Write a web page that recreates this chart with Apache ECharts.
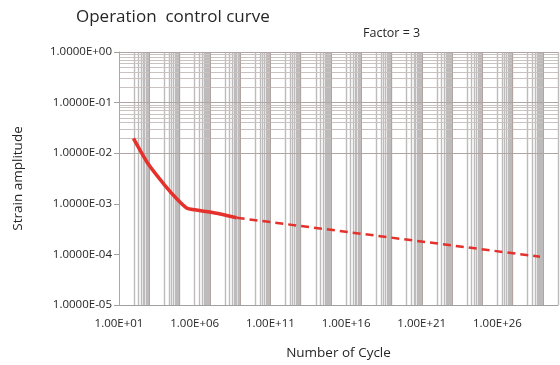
<!DOCTYPE html>
<html>
<head>
<meta charset="utf-8">
<script src="https://cdn.jsdelivr.net/npm/echarts@6/dist/echarts.min.js"></script>
<style>
  html, body { margin: 0; padding: 0; background: #fff; }
  #chart { width: 560px; height: 365px; }
</style>
</head>
<body>
<div id="chart"></div>
<script>
  const solidCycles = [90, 860, 1.1e4, 6.5e4, 2.9e5, 1.05e6, 2.2e7, 5.9e8];
  const solidStrain = [0.0197, 6.1e-3, 2.29e-3, 1.26e-3, 8.3e-4, 7.6e-4, 6.6e-4, 5.3e-4];
  const dashedCycles = [5.9e8, 6.5e28];
  const dashedStrain = [5.3e-4, 9.0e-5];

  const xExpMin = 1, xExpMax = 30;
  const yExpMin = -5, yExpMax = 0;

  // excel style grid
  // y: base 10, minor at 2..9 in each decade
  let yMajor = [], yMinor = [];
  for (let e = yExpMin; e <= yExpMax; e++) {
    yMajor.push({ yAxis: Math.pow(10, e) });
    if (e < yExpMax) {
      for (let k = 2; k <= 9; k++) yMinor.push({ yAxis: k * Math.pow(10, e) });
    }
  }
  // x: base 100, minor at 10,20..90 x major
  let xMajor = [], xMinor = [];
  for (let e = xExpMin; e <= xExpMax; e += 2) {
    xMajor.push({ xAxis: Math.pow(10, e) });
    for (let k = 1; k <= 9; k++) {
      let v = k * Math.pow(10, e + 1);
      if (v <= Math.pow(10, xExpMax) * 1.0001) xMinor.push({ xAxis: v });
    }
  }

  function pad2(n) { return (n < 10 ? '0' : '') + n; }

  const font = 'Open Sans';
  const red = '#e5312b';
  const txt = '#262626';

  let mychart = echarts.init(document.getElementById('chart'));
  mychart.setOption({
    animation: false,
    textStyle: { fontFamily: font },
    title: [
      {
        text: 'Operation  control curve',
        left: 71, top: 4,
        textStyle: { fontFamily: font, fontSize: 17, fontWeight: 'normal', color: txt }
      },
      {
        text: 'Factor = 3',
        left: 358, top: 22,
        textStyle: { fontFamily: font, fontSize: 12.5, fontWeight: 'normal', color: txt }
      }
    ],
    grid: { left: 119, right: 2, top: 52, bottom: 58 },
    xAxis: [
      {
        type: 'log',
        min: Math.pow(10, xExpMin),
        max: Math.pow(10, xExpMax),
        axisLine: { show: false },
        axisTick: { show: false },
        axisLabel: { show: false },
        splitLine: { show: false }
      },
      {
        // only carries the labels, log10 of cycles is linear
        type: 'value',
        position: 'bottom',
        min: xExpMin, max: xExpMax, interval: 5,
        name: 'Number of Cycle',
        nameLocation: 'middle',
        nameGap: 41,
        nameTextStyle: { fontFamily: font, fontSize: 13.5, color: txt },
        axisLine: { show: true, lineStyle: { color: '#a0a0a0' } },
        axisTick: { show: false },
        splitLine: { show: false },
        axisLabel: {
          margin: 13, fontSize: 11.5, color: txt, fontFamily: font,
          showMaxLabel: false,
          formatter: v => ((v - xExpMin) % 5 === 0 ? '1.00E+' + pad2(v) : '')
        }
      }
    ],
    yAxis: {
      type: 'log',
      min: Math.pow(10, yExpMin),
      max: Math.pow(10, yExpMax),
      name: 'Strain amplitude',
      nameLocation: 'middle',
      nameRotate: 90,
      nameGap: 94,
      nameTextStyle: { fontFamily: font, fontSize: 13.5, color: txt },
      axisLine: { show: true, lineStyle: { color: '#a0a0a0' } },
      axisTick: { show: true, length: 5, lineStyle: { color: '#a0a0a0' } },
      splitLine: { show: false },
      axisLabel: {
        margin: 7, fontSize: 11.5, color: txt, fontFamily: font,
        formatter: v => {
          let e = Math.round(Math.log10(v));
          return '1.0000E' + (e < 0 ? '-' : '+') + pad2(Math.abs(e));
        }
      }
    },
    series: [
      {
        name: 'x minor grid',
        type: 'line',
        data: [],
        markLine: {
          silent: true, z: 1, symbol: ['none', 'none'],
          label: { show: false },
          lineStyle: { color: '#bdbbbb', width: 1.4, type: 'solid' },
          emphasis: { disabled: true },
          data: xMinor
        }
      },
      {
        name: 'y minor grid',
        type: 'line',
        data: [],
        markLine: {
          silent: true, z: 1, symbol: ['none', 'none'],
          label: { show: false },
          lineStyle: { color: '#c9c2c1', width: 1, type: 'solid' },
          emphasis: { disabled: true },
          data: yMinor
        }
      },
      {
        name: 'major grid',
        type: 'line',
        data: [],
        markLine: {
          silent: true, z: 1, symbol: ['none', 'none'],
          label: { show: false },
          lineStyle: { color: '#b0a5a3', width: 1, type: 'solid' },
          emphasis: { disabled: true },
          data: xMajor.concat(yMajor)
        }
      },
      {
        name: 'solid',
        type: 'line',
        z: 3,
        showSymbol: false,
        smooth: 0.2,
        lineStyle: { color: red, width: 3.5 },
        data: solidCycles.map((c, i) => [c, solidStrain[i]])
      },
      {
        name: 'dashed',
        type: 'line',
        z: 3,
        showSymbol: false,
        lineStyle: { color: red, width: 2.5, type: [8, 5] },
        data: dashedCycles.map((c, i) => [c, dashedStrain[i]])
      }
    ]
  });
</script>
</body>
</html>
